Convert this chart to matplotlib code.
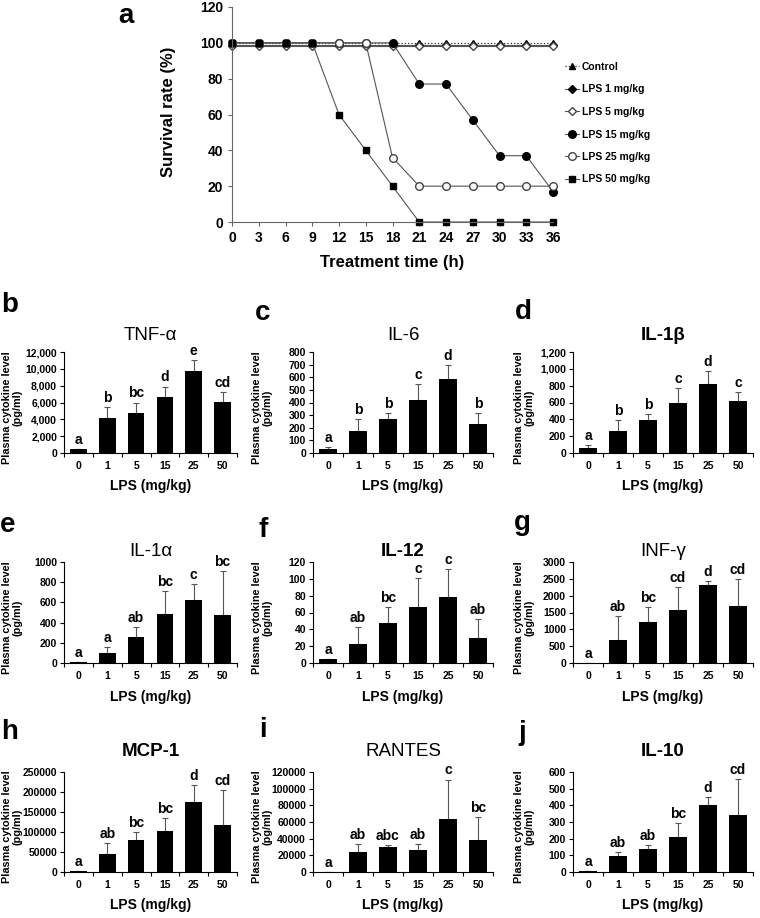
import numpy as np
import matplotlib.pyplot as plt
from matplotlib.ticker import FuncFormatter, MultipleLocator, FixedLocator

plt.rcParams['font.family'] = ['Liberation Sans', 'DejaVu Sans']
plt.rcParams['font.weight'] = 'bold'

# ---- panel a: survival ----
hours = [0, 3, 6, 9, 12, 15, 18, 21, 24, 27, 30, 33, 36]
control = [100, 100, 100, 100, 100, 100, 100, 100, 100, 100, 100, 100, 100]
lps1 = [99, 99, 99, 99, 99, 99, 99, 99, 99, 99, 99, 99, 99]
lps5 = [98, 98, 98, 98, 98, 98, 98, 98, 98, 98, 98, 98, 98]
lps15 = [100, 100, 100, 100, 100, 100, 100, 77, 77, 57, 37, 37, 17]
lps25 = [100, 100, 100, 100, 100, 100, 36, 20, 20, 20, 20, 20, 20]
lps50 = [100, 100, 100, 100, 60, 40, 20, 0, 0, 0, 0, 0, 0]

# ---- cytokine panels ----
doses = ['0', '1', '5', '15', '25', '50']

tnf = [450, 4200, 4700, 6700, 9700, 6100]
tnf_top = [450, 5500, 6000, 7900, 11000, 7200]
tnf_sig = ['a', 'b', 'bc', 'd', 'e', 'cd']

il6 = [30, 175, 270, 420, 585, 230]
il6_top = [50, 270, 320, 545, 695, 320]
il6_sig = ['a', 'b', 'b', 'c', 'd', 'b']

il1b = [60, 265, 395, 600, 825, 615]
il1b_top = [90, 390, 465, 770, 975, 720]
il1b_sig = ['a', 'b', 'b', 'c', 'd', 'c']

il1a = [10, 100, 260, 485, 625, 475]
il1a_top = [10, 160, 360, 715, 785, 915]
il1a_sig = ['a', 'a', 'ab', 'bc', 'c', 'bc']

il12 = [5, 22, 48, 67, 78, 30]
il12_top = [5, 43, 67, 101, 112, 52]
il12_sig = ['a', 'ab', 'bc', 'c', 'c', 'ab']

infg = [0, 680, 1210, 1580, 2310, 1690]
infg_top = [0, 1400, 1650, 2250, 2440, 2500]
infg_sig = ['a', 'ab', 'bc', 'cd', 'd', 'cd']

mcp1 = [2000, 44000, 81000, 102000, 175000, 117000]
mcp1_top = [2000, 73000, 100000, 134000, 217000, 205000]
mcp1_sig = ['a', 'ab', 'bc', 'bc', 'd', 'cd']

rantes = [500, 24000, 30000, 27000, 64000, 38000]
rantes_top = [500, 34000, 33000, 33500, 111000, 66000]
rantes_sig = ['a', 'ab', 'abc', 'ab', 'c', 'bc']

il10 = [5, 95, 138, 213, 405, 340]
il10_top = [5, 122, 162, 297, 452, 560]
il10_sig = ['a', 'ab', 'ab', 'bc', 'd', 'cd']

W, H = 760, 918
fig = plt.figure(figsize=(W / 100, H / 100), dpi=100)


def px_axes(l, t, r, b):
    return fig.add_axes([l / W, 1 - b / H, (r - l) / W, (b - t) / H])


def ftext(x, y, s, **kw):
    fig.text(x / W, 1 - y / H, s, **kw)


# panel a
ax = px_axes(232, 7, 553, 222)
lc = '#555555'
ax.plot(hours, control, ':', color='#333333', lw=0.9, marker='^', ms=5, mfc='black', mec='black', label='Control')
ax.plot(hours, lps1, '-', color=lc, lw=0.8, marker='D', ms=4, mfc='black', mec='black', label='LPS 1 mg/kg')
ax.plot(hours, lps5, '-', color=lc, lw=0.8, marker='D', ms=4, mfc='white', mec='#444444', label='LPS 5 mg/kg')
ax.plot(hours, lps15, '-', color=lc, lw=0.8, marker='o', ms=5.5, mfc='black', mec='black', label='LPS 15 mg/kg')
ax.plot(hours, lps25, '-', color=lc, lw=0.8, marker='o', ms=5.5, mfc='white', mec='#444444', label='LPS 25 mg/kg')
ax.plot(hours, lps50, '-', color=lc, lw=0.8, marker='s', ms=5, mfc='black', mec='black', label='LPS 50 mg/kg')
ax.set_xlim(0, 36)
ax.set_ylim(0, 120)
ax.set_xticks(hours)
ax.set_yticks(np.arange(0, 121, 20))
ax.spines['top'].set_visible(False)
ax.spines['right'].set_visible(False)
for sp in ax.spines.values():
    sp.set_color('#666666')
ax.tick_params(labelsize=10, length=3, width=0.8, color='#666666')
for lab in ax.get_xticklabels() + ax.get_yticklabels():
    lab.set_fontweight('bold')
for ln in ax.lines:
    ln.set_clip_on(False)
fig.legend(loc='upper left', bbox_to_anchor=(565 / W, 1 - 62 / H), frameon=False,
           borderaxespad=0, borderpad=0, handlelength=1.3,
           handletextpad=0.3, labelspacing=1.2, prop={'weight': 'bold', 'size': 7.5})
ftext(126, 16, 'a', fontsize=20, fontweight='bold', ha='center', va='center')
ftext(168, 112, 'Survival rate (%)', fontsize=12, fontweight='bold', rotation=90, ha='center', va='center')
ftext(392, 262, 'Treatment time (h)', fontsize=12, fontweight='bold', ha='center', va='center')

panels = [
    ('b', 'TNF-α', 'normal', tnf, tnf_top, tnf_sig, 12000, 2000, True),
    ('c', 'IL-6', 'normal', il6, il6_top, il6_sig, 800, 100, False),
    ('d', 'IL-1β', 'bold', il1b, il1b_top, il1b_sig, 1200, 200, True),
    ('e', 'IL-1α', 'normal', il1a, il1a_top, il1a_sig, 1000, 200, False),
    ('f', 'IL-12', 'bold', il12, il12_top, il12_sig, 120, 20, False),
    ('g', 'INF-γ', 'normal', infg, infg_top, infg_sig, 3000, 500, False),
    ('h', 'MCP-1', 'bold', mcp1, mcp1_top, mcp1_sig, 250000, 50000, False),
    ('i', 'RANTES', 'normal', rantes, rantes_top, rantes_sig, 120000, 20000, False),
    ('j', 'IL-10', 'bold', il10, il10_top, il10_sig, 600, 100, False),
]

cols = [(64, 237), (313, 493), (573, 753)]
rows = [(352, 453), (562, 663), (772, 872)]
title_y = [335, 552, 752]
xlab_y = [486, 697, 905]
letter_pos = [(10, 305), (263, 313), (523, 312),
              (8, 525), (263, 530), (522, 523),
              (10, 732), (263, 730), (522, 733)]
ylab_x = [12, 262, 524]

for k, (let, name, tw, vals, tops, sig, ymax, ystep, comma) in enumerate(panels):
    r, c = divmod(k, 3)
    l, rr = cols[c]
    t, b = rows[r]
    ax = px_axes(l, t, rr, b)
    x = np.arange(len(doses))
    ax.bar(x, vals, width=0.58, color='black', zorder=2)
    err = np.array(tops) - np.array(vals)
    ax.errorbar(x, vals, yerr=[np.zeros(len(x)), err], fmt='none', ecolor='#555555',
                elinewidth=0.8, capsize=2.2, capthick=0.8, zorder=1)
    for xi, tp, s in zip(x, tops, sig):
        ax.text(xi, tp + ymax * 0.02, s, ha='center', va='bottom', fontsize=10, fontweight='bold')
    ax.set_xlim(-0.5, 5.5)
    ax.set_ylim(0, ymax)
    ax.yaxis.set_major_locator(MultipleLocator(ystep))
    if comma:
        ax.yaxis.set_major_formatter(FuncFormatter(lambda v, p: f'{v:,.0f}'))
    ax.set_xticks(x)
    ax.set_xticklabels(doses)
    ax.xaxis.set_minor_locator(FixedLocator(np.arange(-0.5, 6, 1)))
    ax.tick_params(axis='x', which='major', length=0, pad=6, labelsize=7.5)
    ax.tick_params(axis='x', which='minor', length=3, width=0.8)
    ax.tick_params(axis='y', length=3, width=0.8, labelsize=7.5, pad=2)
    for lab in ax.get_xticklabels() + ax.get_yticklabels():
        lab.set_fontweight('bold')
    ax.spines['top'].set_visible(False)
    ax.spines['right'].set_visible(False)
    cx = (l + rr) / 2
    ftext(cx, title_y[r], name, fontsize=13.5, fontweight=tw, ha='center', va='center')
    ftext(cx, xlab_y[r], 'LPS (mg/kg)', fontsize=10, fontweight='bold', ha='center', va='center')
    ftext(ylab_x[c], (t + b) / 2 + 5, 'Plasma cytokine level\n(pg/ml)', fontsize=7.8,
          fontweight='bold', rotation=90, ha='center', va='center', linespacing=1.1)
    lx, ly = letter_pos[k]
    ftext(lx, ly, let, fontsize=20, fontweight='bold', ha='center', va='center')

fig.savefig('out.png', dpi=100)
